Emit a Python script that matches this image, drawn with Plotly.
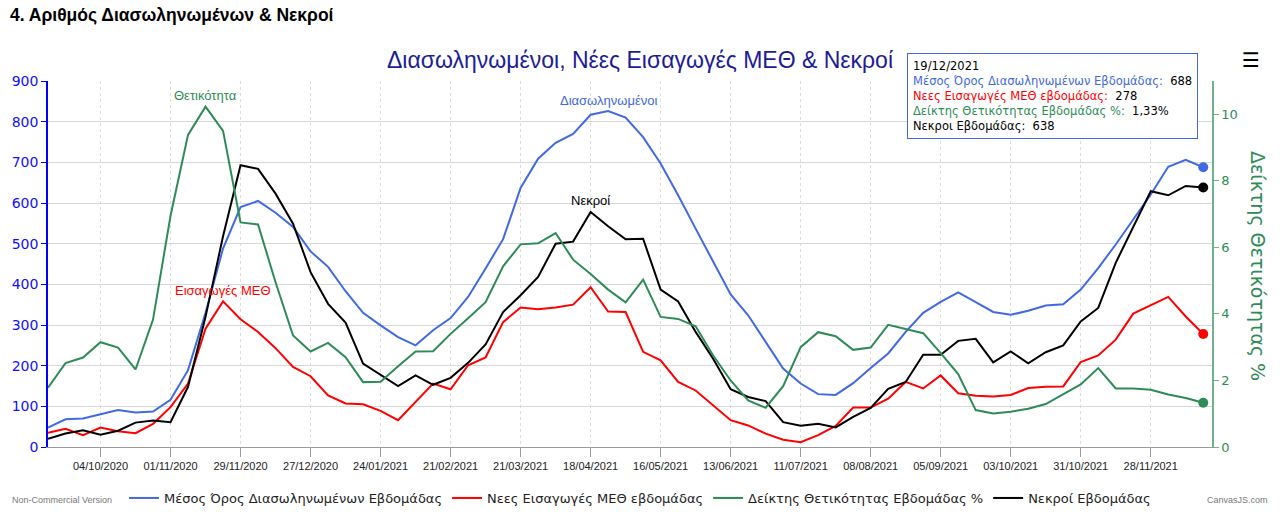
import pandas as pd
import plotly.graph_objects as go

# ---------------- data ----------------
week_start = "2020-09-13"
n_weeks = 67
dates = pd.date_range(week_start, periods=n_weeks, freq="7D")

tick_labels = ["04/10/2020", "01/11/2020", "29/11/2020", "27/12/2020", "24/01/2021",
               "21/02/2021", "21/03/2021", "18/04/2021", "16/05/2021", "13/06/2021",
               "11/07/2021", "08/08/2021", "05/09/2021", "03/10/2021", "31/10/2021",
               "28/11/2021"]

intubated_avg = [48, 68, 70, 80, 91, 85, 87, 116, 189, 330, 488, 590, 605, 576, 541, 481, 443,
                 383, 330, 299, 270, 250, 287, 317, 369, 439, 511, 637, 709, 748, 770, 817, 826, 810,
                 762, 697, 619, 537, 455, 375, 324, 258, 193, 156, 130, 128, 157, 194, 230, 283,
                 330, 357, 380, 356, 332, 325, 335, 348, 351, 387, 440, 498, 560, 621, 689, 706, 688]

icu_new = [35, 45, 29, 48, 39, 34, 57, 98, 156, 291, 358, 314, 283, 243, 197, 174, 127,
           107, 105, 89, 66, 111, 156, 142, 201, 220, 307, 343, 339, 343, 350, 393, 333, 332,
           234, 213, 160, 139, 102, 66, 53, 33, 18, 12, 29, 52, 97, 97, 119, 160,
           144, 176, 132, 126, 124, 128, 145, 148, 149, 209, 225, 264, 328, 348, 369, 321, 278]

positivity = [1.78, 2.52, 2.69, 3.15, 2.99, 2.33, 3.83, 6.95, 9.38, 10.23, 9.50, 6.75, 6.69, 4.95, 3.35, 2.87, 3.13,
              2.70, 1.95, 1.96, 2.43, 2.87, 2.88, 3.40, 3.87, 4.35, 5.43, 6.09, 6.12, 6.43, 5.63, 5.20, 4.73, 4.35,
              5.03, 3.91, 3.85, 3.63, 2.75, 2.00, 1.40, 1.18, 1.83, 3.00, 3.45, 3.33, 2.92, 2.99, 3.67, 3.55,
              3.42, 2.82, 2.19, 1.11, 1.01, 1.06, 1.15, 1.29, 1.58, 1.88, 2.37, 1.76, 1.76, 1.72, 1.58, 1.47, 1.33]

deaths = [20, 33, 41, 30, 40, 60, 65, 61, 148, 320, 518, 693, 684, 623, 549, 430, 352,
          306, 205, 178, 150, 176, 153, 170, 207, 252, 332, 373, 418, 500, 505, 578, 543, 511,
          512, 387, 358, 283, 217, 142, 123, 113, 61, 52, 57, 48, 74, 96, 143, 160,
          227, 227, 261, 266, 208, 235, 206, 233, 250, 309, 342, 453, 541, 629, 619, 642, 638]

names = ["Μέσος Όρος Διασωληνωμένων Εβδομάδας", "Νεες Εισαγωγές ΜΕΘ εβδομάδας",
         "Δείκτης Θετικότητας Εβδομάδας %", "Νεκροί Εβδομάδας"]
tooltip_names = ["Μέσος Όρος Διασωληνωμένων Εβδομάδας:", "Νεες Εισαγωγές ΜΕΘ εβδομάδας:",
                 "Δείκτης Θετικότητας Εβδομάδας %:", "Νεκροι Εβδομάδας:"]
colors = ["#4169e1", "#ff0000", "#2e8b57", "#000000"]

# index labels: (series index, point index, text)
index_labels = [(2, 9, "Θετικότητα"), (1, 10, "Εισαγωγές ΜΕΘ"),
                (0, 32, "Διασωληνωμένοι"), (3, 31, "Νεκροί")]

# ---------------- figure ----------------
series = [intubated_avg, icu_new, positivity, deaths]
axes = ["y", "y", "y2", "y"]

fig = go.Figure()
for s, nm, c, ax in zip(series, names, colors, axes):
    fig.add_trace(go.Scatter(x=dates, y=s, name=nm, mode="lines", yaxis=ax,
                             line=dict(color=c, width=2), hoverinfo="skip"))
for s, c, ax in zip(series, colors, axes):
    fig.add_trace(go.Scatter(x=dates[-1:], y=s[-1:], mode="markers", yaxis=ax,
                             marker=dict(color=c, size=10), showlegend=False,
                             hoverinfo="skip"))

tickvals = [pd.to_datetime(t, format="%d/%m/%Y") for t in tick_labels]

W, H = 1280, 517
L, R, T, B = 48, 68, 81, 70
pw, ph = W - L - R, H - T - B


def px(xpix):
    return (xpix - L) / pw


def py(ypix):
    return (H - B - ypix) / ph


fig.update_layout(
    width=W, height=H, autosize=False,
    margin=dict(l=L, r=R, t=T, b=B, autoexpand=False),
    paper_bgcolor="white", plot_bgcolor="white",
    font=dict(family="DejaVu Sans", color="#333"),
    title=dict(text="Διασωληνωμένοι, Νέες Εισαγωγές ΜΕΘ & Νεκροί",
               x=0.5, xref="container", xanchor="center",
               y=1 - 60 / H, yref="container", yanchor="middle",
               font=dict(family="Liberation Sans", size=23, color="#1c1c96")),
    xaxis=dict(range=[dates[0], dates[0] + pd.Timedelta(days=465.5)],
               tickvals=tickvals, ticktext=tick_labels,
               showgrid=True, gridcolor="#dcdcdc", griddash="dot", gridwidth=1,
               showline=True, linecolor="#999", linewidth=1,
               ticks="outside", ticklen=9, tickcolor="#999",
               tickfont=dict(family="Liberation Sans", size=11, color="#222"),
               zeroline=False),
    yaxis=dict(range=[0, 900], dtick=100, showgrid=True, gridcolor="#d8d8d8", gridwidth=1,
               showline=True, linecolor="#0000ff", linewidth=1.5,
               ticks="outside", ticklen=5, tickcolor="#0000ff",
               tickfont=dict(family="DejaVu Sans", size=14, color="#1010ff"),
               zeroline=False),
    yaxis2=dict(range=[0, 11], dtick=2, overlaying="y", side="right", showgrid=False,
                showline=True, linecolor="#6fb38a", linewidth=1.5,
                ticks="outside", ticklen=5, tickcolor="#6fb38a",
                tickfont=dict(family="DejaVu Sans", size=13, color="#2e8b57"),
                zeroline=False),
    legend=dict(orientation="h", x=(640 - L) / pw, xanchor="center",
                y=py(498), yanchor="middle",
                font=dict(family="DejaVu Sans", size=13, color="#222"),
                bgcolor="rgba(0,0,0,0)"),
    showlegend=True,
)

ann = []
# page heading
ann.append(dict(text="<b>4. Αριθμός Διασωληνωμένων & Νεκροί</b>", xref="paper", yref="paper",
                x=px(8), y=py(15), xanchor="left", yanchor="middle", showarrow=False,
                font=dict(family="Liberation Sans", size=17.5, color="#000")))
# right axis title
ann.append(dict(text="Δείκτης Θετικότητας %", xref="paper", yref="paper",
                x=px(1258), y=py(266), xanchor="center", yanchor="middle", textangle=90,
                showarrow=False, font=dict(family="DejaVu Sans", size=19, color="#2e8b57")))
# menu icon
ann.append(dict(text="<b>☰</b>", xref="paper", yref="paper", x=px(1251), y=py(60),
                xanchor="center", yanchor="middle", showarrow=False,
                font=dict(family="DejaVu Sans", size=20, color="#000")))
# footer texts
ann.append(dict(text="Non-Commercial Version", xref="paper", yref="paper", x=px(10), y=py(500),
                xanchor="left", yanchor="middle", showarrow=False,
                font=dict(family="Liberation Sans", size=9, color="#777")))
ann.append(dict(text="CanvasJS.com", xref="paper", yref="paper", x=px(1270), y=py(500),
                xanchor="right", yanchor="middle", showarrow=False,
                font=dict(family="Liberation Sans", size=9, color="#777")))
# index labels
for si, pi, txt in index_labels:
    ann.append(dict(text=txt, x=dates[pi], y=series[si][pi], xref="x",
                    yref="y2" if axes[si] == "y2" else "y",
                    yshift=11, yanchor="middle", showarrow=False,
                    font=dict(family="Liberation Sans", size=13, color=colors[si])))
# tooltip
vals = [str(intubated_avg[-1]), str(icu_new[-1]),
        f"{positivity[-1]:.2f}".replace(".", ",") + "%", str(deaths[-1])]
lines = [dates[-1].strftime("%d/%m/%Y")]
for nm, c, v in zip(tooltip_names, colors, vals):
    lines.append(f'<span style="color:{c}">{nm}</span>  {v}')
ann.append(dict(text="<br>".join(lines), xref="paper", yref="paper",
                x=px(907), y=py(53), xanchor="left", yanchor="top", align="left",
                showarrow=False, bgcolor="white", bordercolor="#4169e1", borderwidth=1,
                borderpad=5, font=dict(family="DejaVu Sans", size=11.5, color="#000")))
fig.update_layout(annotations=ann)

fig.write_html("out.html")
